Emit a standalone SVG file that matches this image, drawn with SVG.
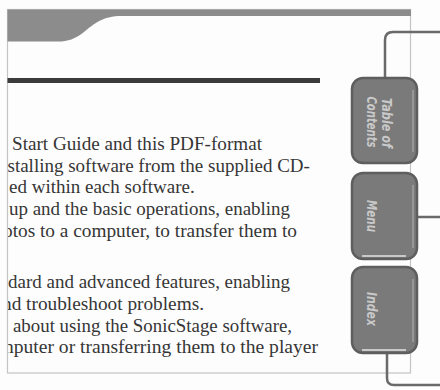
<svg xmlns="http://www.w3.org/2000/svg" width="440" height="390" viewBox="0 0 440 390">
<defs>
<style>
.body{font-family:"Liberation Serif","Times New Roman",serif;font-size:19px;fill:#363636}
.tab{fill:#7a7a7a;stroke:#5e5e5e;stroke-width:2.5}
.tabtxt{font-family:"Liberation Sans Narrow","DejaVu Sans Condensed","Liberation Sans",sans-serif;font-style:italic;font-weight:bold;font-size:14px;fill:#c9c9c9;text-anchor:middle}
.conn{fill:none;stroke:#6a6a6a;stroke-width:2.5}
.hl{stroke:#a9a9a9;stroke-width:1.2}
.hlb{stroke:#e4e4e4;stroke-width:1.5}
</style>
<clipPath id="pageclip"><rect x="8" y="0" width="432" height="390"/></clipPath>
</defs>
<rect x="0" y="0" width="440" height="390" fill="#fdfdfd"/>
<g id="page">
<rect x="7.5" y="9.5" width="403" height="363.5" fill="none" stroke="#c4c4c4" stroke-width="1.2"/>
<path d="M7.5,9.5 H411 V16 H122 C102,16 94,24 84,32 C75,39 68,41.5 58,41.5 H7.5 Z" fill="#8c8c8c"/>
<rect x="7.5" y="78" width="312.5" height="5" fill="#3c3c3c"/>
</g>
<g id="text" clip-path="url(#pageclip)">
<text class="body" x="12" y="150" textLength="250" lengthAdjust="spacingAndGlyphs">Start Guide and this PDF-format</text>
<text class="body" x="7.5" y="172">stalling software from the supplied CD-</text>
<text class="body" x="9" y="193">ed within each software.</text>
<text class="body" x="9" y="215" textLength="281" lengthAdjust="spacingAndGlyphs">up and the basic operations, enabling</text>
<text class="body" x="3" y="237" textLength="294" lengthAdjust="spacingAndGlyphs">otos to a computer, to transfer them to</text>
<text class="body" x="8" y="288" textLength="282" lengthAdjust="spacingAndGlyphs">dard and advanced features, enabling</text>
<text class="body" x="2" y="310" textLength="202" lengthAdjust="spacingAndGlyphs">nd troubleshoot problems.</text>
<text class="body" x="13" y="332" textLength="279" lengthAdjust="spacingAndGlyphs">about using the SonicStage software,</text>
<text class="body" x="4" y="353" textLength="314" lengthAdjust="spacingAndGlyphs">nputer or transferring them to the player</text>
</g>
<g id="connectors">
<path class="conn" d="M385,78 V40 Q385,32 393,32 H440"/>
<path class="conn" d="M417,217 H440"/>
<path class="conn" d="M387,353 V378 Q387,385 394,385 H440"/>
</g>
<g id="tab-contents">
<rect class="tab" x="352" y="78" width="65" height="85" rx="11"/>
<line class="hl" x1="413" y1="90" x2="413" y2="152"/>
<text class="tabtxt" transform="translate(382,123) rotate(90)" textLength="50" lengthAdjust="spacingAndGlyphs">Table of</text>
<text class="tabtxt" transform="translate(367,122) rotate(90)" textLength="51" lengthAdjust="spacingAndGlyphs">Contents</text>
</g>
<g id="tab-menu">
<rect class="tab" x="352" y="173" width="65" height="86" rx="11"/>
<line class="hl" x1="413" y1="185" x2="413" y2="248"/>
<line class="hlb" x1="362" y1="256" x2="406" y2="256"/>
<text class="tabtxt" transform="translate(367,216) rotate(90)" textLength="32" lengthAdjust="spacingAndGlyphs">Menu</text>
</g>
<g id="tab-index">
<rect class="tab" x="352" y="267" width="65" height="86" rx="11"/>
<line class="hl" x1="413" y1="279" x2="413" y2="342"/>
<line class="hlb" x1="362" y1="350" x2="406" y2="350"/>
<text class="tabtxt" transform="translate(367,309) rotate(90)" textLength="34" lengthAdjust="spacingAndGlyphs">Index</text>
</g>
</svg>
